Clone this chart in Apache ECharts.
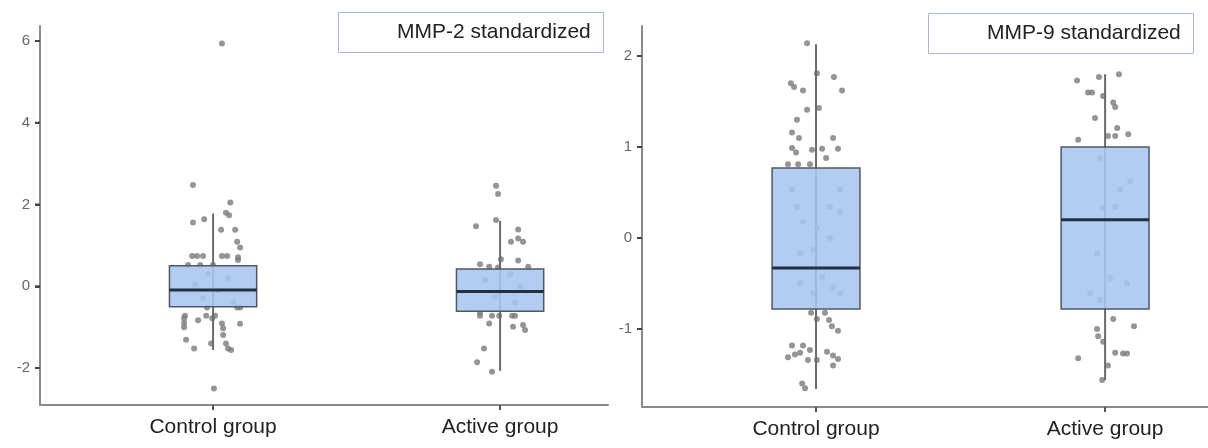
<!DOCTYPE html>
<html>
<head>
<meta charset="utf-8">
<script src="https://cdn.jsdelivr.net/npm/echarts@6/dist/echarts.min.js"></script>
<style>
  html, body { margin: 0; padding: 0; background: #fff; }
  #chart { width: 1208px; height: 448px; }
</style>
</head>
<body>
<div id="chart"></div>
<script>
// groups on the x axis (position 1 and 2)
const groups = ['Control group', 'Active group'];
const panelTitles = ['MMP-2 standardized', 'MMP-9 standardized'];

// y tick labels per panel
const mmp2Ticks = [-2, 0, 2, 4, 6];
const mmp9Ticks = [-1, 0, 1, 2];

// box stats: [x, whiskerLow, Q1, median, Q3, whiskerHigh]
const mmp2Box = [
  [1, -1.56, -0.50, -0.09, 0.50, 1.78],
  [2, -2.07, -0.61, -0.13, 0.42, 1.60]
];
const mmp9Box = [
  [1, -1.66, -0.78, -0.33, 0.77, 2.13],
  [2, -1.56, -0.78, 0.20, 1.00, 1.80]
];

// jittered points: values and horizontal jitter (in group units)
const mmp2ControlVal = [2.48, 2.05, 1.80, 1.74, 1.56, 1.64, 1.38, 1.38, 1.09, 0.95, 0.74, 0.74, 0.74, 0.74, 0.74, 0.71, 0.64, 0.52, 0.52, 0.52,
  0.30, 0.20, 0.05, -0.10, -0.30, -0.40, -0.52, -0.52, -0.52, -0.72, -0.72, -0.72, -0.83, -0.78, -0.90, -1.00, -0.78, -0.91, -1.03, -1.19,
  -1.40, -1.52, -1.56, -0.92, -1.31, -1.52, -1.40, -2.50, 5.94];
const mmp2ControlJit = [-0.07, 0.06, 0.045, 0.056, -0.07, -0.031, 0.028, 0.077, 0.084, 0.094, -0.073, -0.056, -0.035, 0.031, 0.049, 0.087, 0.087, -0.087, -0.045, 0,
  -0.017, 0.052, -0.063, 0.017, -0.035, 0.07, -0.021, 0.084, 0.094, -0.098, -0.024, 0.007, -0.052, -0.101, -0.101, -0.101, -0.003, 0.031, 0.035, 0.035,
  0.045, 0.052, 0.063, 0.094, -0.094, -0.066, -0.007, 0.003, 0.031];

const mmp2ActiveVal = [2.46, 2.26, 1.47, 1.62, 1.39, 1.09, 1.17, 1.09, 0.66, 0.63, 0.54, 0.48, 0.48, 0.46,
  0.30, 0.15, 0.00, -0.25, -0.40, -0.64, -0.72, -0.72, -0.72, -0.72, -0.72, -0.91, -0.99, -0.95, -1.07, -1.52, -1.86, -2.09];
const mmp2ActiveJit = [-0.014, -0.007, -0.084, -0.014, 0.063, 0.038, 0.063, 0.08, 0.003, 0.063, -0.07, -0.038, 0.098, -0.007,
  0.035, -0.052, 0.07, -0.017, 0.052, -0.07, -0.07, -0.028, -0.003, 0.042, 0.052, -0.038, 0.045, 0.08, 0.087, -0.056, -0.08, -0.028];

const mmp9ControlVal = [2.14, 1.81, 1.77, 1.70, 1.66, 1.62, 1.62, 1.41, 1.43, 1.30, 1.16, 1.10, 1.10, 0.99, 0.94, 0.97, 0.98, 0.98, 0.88, 0.81, 0.81, 0.81,
  0.53, 0.53, 0.34, 0.34, 0.29, 0.18, 0.11, 0.00, -0.17, -0.13, -0.43, -0.54, -0.61, -0.61, -0.50,
  -0.89, -0.82, -0.90, -0.97, -1.02, -0.82, -1.18, -1.18, -1.23, -1.26, -1.28, -1.31, -1.34, -1.34, -1.25, -1.29, -1.33, -1.40, -1.60, -1.65];
const mmp9ControlJit = [-0.031, 0.003, 0.062, -0.087, -0.076, -0.045, 0.09, -0.031, 0.01, -0.066, -0.083, -0.059, 0.059, -0.083, -0.069, -0.014, 0.021, 0.076, 0.035, -0.097, -0.062, -0.021,
  -0.083, 0.083, -0.066, 0.048, 0.083, -0.045, 0.003, 0.048, -0.055, -0.01, 0.021, 0.059, -0.01, 0.083, -0.055,
  0.003, 0.031, 0.045, 0.055, 0.076, -0.017, -0.083, -0.045, -0.021, -0.055, -0.073, -0.097, -0.028, 0.003, 0.038, 0.059, 0.076, 0.059, -0.048, -0.038];

const mmp9ActiveVal = [1.73, 1.77, 1.80, 1.60, 1.60, 1.56, 1.49, 1.44, 1.32, 1.21, 1.14, 1.12, 1.12, 1.08,
  0.88, 0.62, 0.53, 0.33, 0.34, -0.17, -0.44, -0.50, -0.61, -0.68,
  -0.89, -0.97, -1.00, -1.08, -1.14, -1.26, -1.27, -1.27, -1.32, -1.40, -1.56];
const mmp9ActiveJit = [-0.097, -0.021, 0.048, -0.059, -0.045, -0.007, 0.028, 0.035, -0.035, 0.042, 0.08, 0.01, 0.035, -0.093,
  -0.017, 0.087, 0.052, -0.007, 0.035, -0.028, 0.017, 0.076, -0.052, -0.017,
  0.028, 0.1, -0.028, -0.024, -0.007, 0.035, 0.062, 0.076, -0.093, 0.01, -0.01];

const FONT = 'Liberation Sans, Arial, sans-serif';
const BOX_HALF = 0.152;
const X_RANGE = [[0.397, 2.376], [0.398, 2.356]];

function points(group, vals, jit) {
  return vals.map((v, i) => [group + jit[i], v]);
}

function renderBox(params, api) {
  const x = api.value(0);
  const low = api.coord([x, api.value(1)]);
  const q1 = api.coord([x, api.value(2)]);
  const med = api.value(3);
  const q3 = api.coord([x, api.value(4)]);
  const high = api.coord([x, api.value(5)]);
  const l = api.coord([x - BOX_HALF, med]);
  const r = api.coord([x + BOX_HALF, med]);
  return {
    type: 'group',
    children: [
      { type: 'line', shape: { x1: low[0], y1: low[1], x2: high[0], y2: high[1] },
        style: { stroke: '#6b6b6b', lineWidth: 2 } },
      { type: 'rect', shape: { x: l[0], y: q3[1], width: r[0] - l[0], height: q1[1] - q3[1] },
        style: { fill: 'rgba(168,198,240,0.88)', stroke: '#4f5966', lineWidth: 1.5 } },
      { type: 'line', shape: { x1: l[0], y1: l[1], x2: r[0], y2: r[1] },
        style: { stroke: '#1f3047', lineWidth: 3 } }
    ]
  };
}

// small outward tick on the y axis line at each labelled value
function tickRenderer(xMin) {
  return function (params, api) {
    const p = api.coord([xMin, api.value(0)]);
    return { type: 'line', shape: { x1: p[0] - 5, y1: p[1], x2: p[0], y2: p[1] },
      style: { stroke: '#444', lineWidth: 2 } };
  };
}

function xAxisOf(gridIndex) {
  return {
    type: 'value', gridIndex: gridIndex, min: X_RANGE[gridIndex][0], max: X_RANGE[gridIndex][1],
    splitLine: { show: false },
    axisLine: { show: true, onZero: false, lineStyle: { color: '#8a8a8a', width: 2 } },
    axisTick: { show: true, customValues: [1, 2], length: 5, lineStyle: { color: '#555', width: 2 } },
    axisLabel: { customValues: [1, 2], formatter: v => groups[Math.round(v) - 1],
      fontSize: 21, color: '#222', fontFamily: FONT, margin: 12 }
  };
}

function yAxisOf(gridIndex, min, max, ticks) {
  return {
    type: 'value', gridIndex: gridIndex, min: min, max: max,
    splitLine: { show: false },
    axisLine: { show: true, onZero: false, lineStyle: { color: '#8a8a8a', width: 2 } },
    axisTick: { show: true, customValues: ticks, length: 5, lineStyle: { color: '#444', width: 2 } },
    axisLabel: { customValues: ticks, fontSize: 15, color: '#666', fontFamily: FONT, margin: 10 }
  };
}

function panelTitle(text, left, top) {
  return {
    text: text, left: left, top: top,
    borderColor: '#a9b6d4', borderWidth: 1,
    padding: [8, 13, 8, 59],
    textStyle: { fontSize: 21, fontWeight: 'normal', color: '#222', fontFamily: FONT, lineHeight: 25 }
  };
}

function scatterOf(idx, data) {
  return {
    type: 'scatter', xAxisIndex: idx, yAxisIndex: idx, data: data,
    symbolSize: 6, z: 2, silent: true,
    itemStyle: { color: '#7a7a7a', opacity: 0.8 }
  };
}

function boxOf(idx, data) {
  return {
    type: 'custom', xAxisIndex: idx, yAxisIndex: idx, data: data, z: 3, silent: true,
    encode: { x: 0, y: [1, 2, 3, 4, 5] },
    renderItem: renderBox
  };
}

function ticksOf(idx, ticks) {
  return {
    type: 'custom', xAxisIndex: idx, yAxisIndex: idx, z: 4, silent: true, clip: false,
    data: ticks.map(v => [v]),
    encode: { y: 0 },
    renderItem: tickRenderer(X_RANGE[idx][0])
  };
}

const chart = echarts.init(document.getElementById('chart'));
chart.setOption({
  animation: false,
  title: [panelTitle(panelTitles[0], 338, 12), panelTitle(panelTitles[1], 928, 13)],
  grid: [
    { left: 40, top: 26, width: 568, bottom: 43 },
    { left: 642, top: 26, right: 0, bottom: 41 }
  ],
  xAxis: [xAxisOf(0), xAxisOf(1)],
  yAxis: [yAxisOf(0, -2.905, 6.367, mmp2Ticks), yAxisOf(1, -1.857, 2.33, mmp9Ticks)],
  series: [
    scatterOf(0, points(1, mmp2ControlVal, mmp2ControlJit).concat(points(2, mmp2ActiveVal, mmp2ActiveJit))),
    boxOf(0, mmp2Box),
    ticksOf(0, mmp2Ticks),
    scatterOf(1, points(1, mmp9ControlVal, mmp9ControlJit).concat(points(2, mmp9ActiveVal, mmp9ActiveJit))),
    boxOf(1, mmp9Box),
    ticksOf(1, mmp9Ticks)
  ]
});
</script>
</body>
</html>
